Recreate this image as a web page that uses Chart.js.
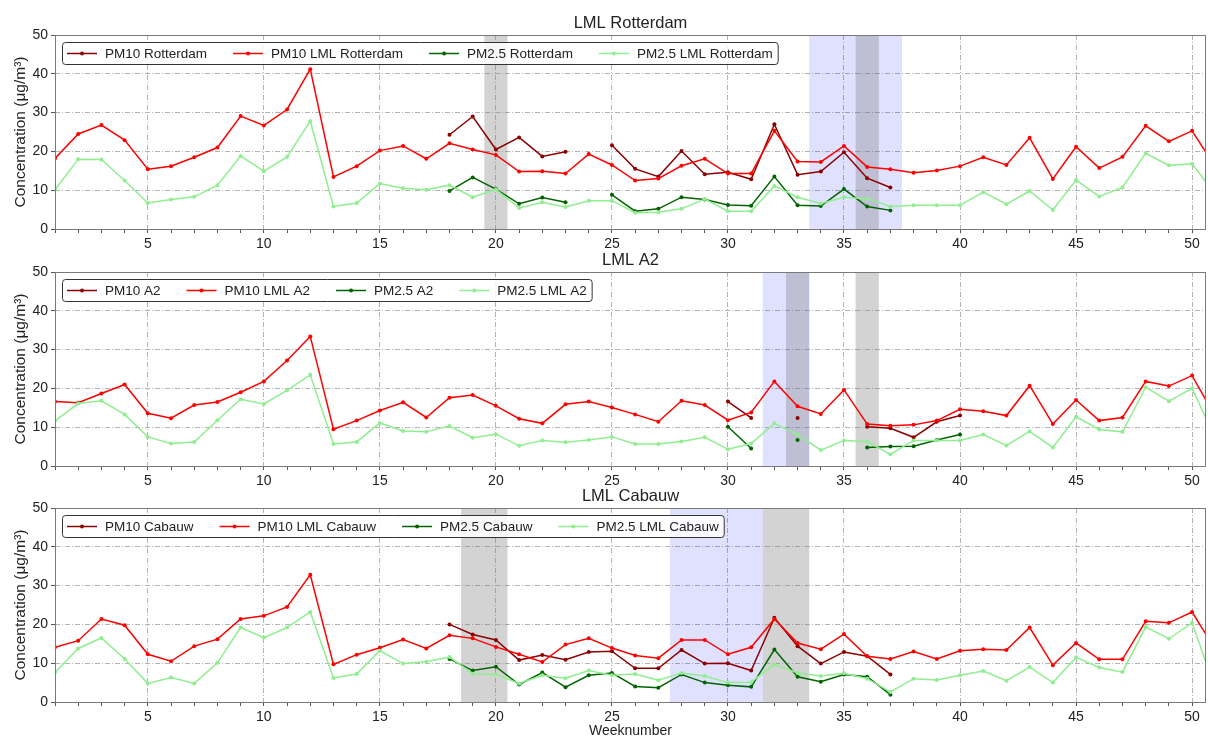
<!DOCTYPE html>
<html>
<head>
<meta charset="utf-8">
<script src="https://cdn.jsdelivr.net/npm/chart.js@4"></script>
<style>
  body { margin: 0; width: 1208px; height: 736px; overflow: hidden; background: #fff; position: relative; }
  canvas { position: absolute; left: 0; }
</style>
</head>
<body>
<canvas id="c1" width="1208" height="250" style="top:0"></canvas>
<canvas id="c2" width="1208" height="250" style="top:237px"></canvas>
<canvas id="c3" width="1208" height="267" style="top:473px"></canvas>
<script>
const N = null;
const weeks = [1,2,3,4,5,6,7,8,9,10,11,12,13,14,15,16,17,18,19,20,21,22,23,24,25,26,27,28,29,30,
  31,32,33,34,35,36,37,38,39,40,41,42,43,44,45,46,47,48,49,50,51];

// LML Rotterdam
const pm10Rdam = [N,N,N,N,N,N,N,N,N,N,N,N,N,N,N,N,N,24.3,29.0,20.5,23.6,18.7,19.9,N,21.6,15.5,13.5,20.1,14.1,14.6,
  12.8,27.0,14.0,14.8,19.8,13.1,10.7,N,N,N,N,N,N,N,N,N,N,N,N,N,N];
const pm10LmlRdam = [18.2,24.5,26.8,22.9,15.4,16.2,18.5,21.0,29.1,26.7,30.8,41.2,13.4,16.2,20.2,21.4,18.1,22.1,20.5,19.1,
  14.8,14.9,14.3,19.3,16.5,12.5,13.0,16.3,18.1,14.3,14.3,25.3,17.4,17.3,21.4,16.0,15.4,14.5,15.1,16.2,
  18.5,16.5,23.5,12.9,21.2,15.7,18.6,26.6,22.6,25.3,16.0];
const pm25Rdam = [N,N,N,N,N,N,N,N,N,N,N,N,N,N,N,N,N,9.8,13.3,10.3,6.5,8.1,6.9,N,8.8,4.6,5.2,8.2,7.6,6.2,
  6.0,13.5,6.1,5.9,10.3,5.8,4.8,N,N,N,N,N,N,N,N,N,N,N,N,N,N];
const pm25LmlRdam = [10.1,18.0,17.9,12.5,6.7,7.6,8.3,11.3,18.8,14.9,18.6,27.8,5.8,6.7,11.7,10.5,10.1,11.3,8.2,10.2,
  5.4,6.9,5.7,7.3,7.3,4.2,4.3,5.2,7.7,4.6,4.6,11.1,8.2,6.6,8.2,7.8,5.8,6.1,6.1,6.1,
  9.5,6.4,9.8,4.9,12.6,8.4,10.7,19.5,16.4,16.8,9.0];

// LML A2
const pm10A2 = [N,N,N,N,N,N,N,N,N,N,N,N,N,N,N,N,N,N,N,N,N,N,N,N,N,N,N,N,N,16.6,
  12.4,N,12.4,N,N,10.1,9.7,7.4,11.4,13.0,N,N,N,N,N,N,N,N,N,N,N];
const pm10LmlA2 = [16.6,16.3,18.7,21.0,13.6,12.3,15.7,16.5,19.0,21.8,27.2,33.4,9.5,11.7,14.3,16.4,12.5,17.6,18.3,15.5,
  12.2,11.0,15.9,16.6,15.1,13.3,11.4,16.8,15.7,11.8,13.8,21.8,15.4,13.4,19.6,10.8,10.4,10.6,11.7,14.6,
  14.1,13.0,20.7,10.8,17.0,11.7,12.5,21.8,20.6,23.3,12.7];
const pm25A2 = [N,N,N,N,N,N,N,N,N,N,N,N,N,N,N,N,N,N,N,N,N,N,N,N,N,N,N,N,N,10.1,
  4.5,N,6.7,N,N,4.8,5.0,5.1,6.7,8.1,N,N,N,N,N,N,N,N,N,N,N];
const pm25LmlA2 = [11.6,16.1,16.8,13.3,7.5,5.8,6.2,11.8,17.2,16.0,19.5,23.5,5.7,6.2,11.1,9.0,8.8,10.3,7.3,8.2,
  5.2,6.6,6.1,6.7,7.5,5.7,5.7,6.3,7.4,4.3,5.8,11.0,8.1,4.1,6.6,6.3,3.0,6.6,6.6,6.6,
  8.1,5.3,8.9,4.8,12.7,9.4,8.8,20.3,16.7,20.0,7.2];

// LML Cabauw
const pm10Cab = [N,N,N,N,N,N,N,N,N,N,N,N,N,N,N,N,N,20.0,17.4,16.0,10.8,12.1,10.9,12.9,13.1,8.7,8.7,13.4,9.9,10.0,
  8.1,21.7,14.4,9.9,12.9,11.8,7.1,N,N,N,N,N,N,N,N,N,N,N,N,N,N];
const pm10LmlCab = [14.1,15.8,21.4,19.8,12.3,10.5,14.4,16.2,21.4,22.2,24.5,32.8,9.7,12.2,14.0,16.1,13.8,17.2,16.4,14.2,
  12.3,10.3,14.8,16.4,13.9,12.0,11.3,16.0,16.0,12.3,14.1,21.4,15.2,13.6,17.5,11.8,11.1,13.0,11.1,13.2,
  13.6,13.4,19.2,9.5,15.2,11.0,11.0,20.8,20.4,23.2,13.6];
const pm25Cab = [N,N,N,N,N,N,N,N,N,N,N,N,N,N,N,N,N,11.1,8.1,9.1,4.5,7.6,3.8,6.9,7.5,4.0,3.7,7.1,5.0,4.3,
  3.9,13.5,6.5,5.2,7.1,6.5,1.9,N,N,N,N,N,N,N,N,N,N,N,N,N,N];
const pm25LmlCab = [7.6,13.8,16.5,11.1,4.8,6.3,4.8,10.1,19.2,16.6,19.2,23.2,6.2,7.2,13.2,9.9,10.4,11.6,7.3,7.1,
  4.8,6.9,6.1,8.1,6.9,7.2,5.6,7.5,6.7,5.0,5.1,9.7,7.5,6.7,7.4,6.0,2.6,6.0,5.7,6.9,
  8.0,5.5,9.0,5.0,11.5,8.9,7.7,19.3,16.3,20.4,3.4];

// shaded week spans [from, to]
const blueRdam = [[33.5, 37.5]], grayRdam = [[19.5, 20.5], [35.5, 36.5]];
const blueA2 = [[31.5, 33.5]], grayA2 = [[32.5, 33.5], [35.5, 36.5]];
const blueCab = [[27.5, 31.5]], grayCab = [[18.5, 20.5], [31.5, 33.5]];

const FONT = '"Liberation Sans", Arial, Helvetica, sans-serif';
const TXT = '#222';
Chart.defaults.font.family = FONT;
Chart.defaults.color = TXT;

const shade = {
  id: 'shade',
  beforeDatasetsDraw(chart, args, opts) {
    const { ctx, chartArea: a, scales: { x } } = chart;
    ctx.save();
    const span = (s, color) => {
      const x1 = x.getPixelForValue(s[0]), x2 = x.getPixelForValue(s[1]);
      ctx.fillStyle = color;
      ctx.fillRect(x1, a.top, x2 - x1, a.height);
    };
    (opts.blue || []).forEach(s => span(s, 'rgba(0,0,255,0.12)'));
    (opts.gray || []).forEach(s => span(s, 'rgba(128,128,128,0.35)'));
    ctx.restore();
  }
};

const frame = {
  id: 'frame',
  afterDatasetsDraw(chart, args, opts) {
    const { ctx, chartArea: a } = chart;
    ctx.save();
    ctx.strokeStyle = '#7a7a7a';
    ctx.lineWidth = 1;
    ctx.strokeRect(Math.round(a.left) + 0.5, Math.round(a.top) + 0.5, Math.round(a.width) - 1, Math.round(a.height));
    ctx.font = '16.5px ' + FONT;
    ctx.fillStyle = TXT;
    ctx.textAlign = 'center';
    ctx.textBaseline = 'middle';
    ctx.fillText(opts.title, (a.left + a.right) / 2, a.top - 12);
    ctx.restore();
  }
};

const boxLegend = {
  id: 'boxLegend',
  afterDraw(chart) {
    const { ctx, chartArea: a } = chart;
    const items = chart.data.datasets;
    ctx.save();
    ctx.font = '13.5px ' + FONT;
    const widths = items.map(d => ctx.measureText(d.label).width);
    const left = Math.round(a.left) + 7, top = Math.round(a.top) + 7, h = 22;
    const w = 5 + widths.reduce((s, tw) => s + 38 + tw, 0) + 26 * (items.length - 1) + 5;
    ctx.beginPath();
    ctx.roundRect(left + 0.5, top + 0.5, w, h, 3);
    ctx.fillStyle = 'rgba(255,255,255,0.85)';
    ctx.fill();
    ctx.strokeStyle = '#333';
    ctx.lineWidth = 1;
    ctx.stroke();
    let x = left + 5;
    const cy = top + h / 2 + 0.5;
    items.forEach((d, i) => {
      ctx.strokeStyle = d.borderColor;
      ctx.lineWidth = 1.5;
      ctx.beginPath(); ctx.moveTo(x, cy); ctx.lineTo(x + 30, cy); ctx.stroke();
      ctx.fillStyle = d.borderColor;
      ctx.beginPath(); ctx.arc(x + 15, cy, 2, 0, Math.PI * 2); ctx.fill();
      ctx.fillStyle = TXT;
      ctx.textBaseline = 'middle';
      ctx.fillText(d.label, x + 38, cy + 0.5);
      x += 38 + widths[i] + 26;
    });
    ctx.restore();
  }
};

const series = (label, vals, color, order) => ({
  label, data: weeks.map((w, i) => ({ x: w, y: vals[i] })),
  borderColor: color, backgroundColor: color, borderWidth: 1.5,
  pointRadius: 2, pointBorderWidth: 0, pointHoverRadius: 2, tension: 0, order,
});

function panel(id, title, site, vals, blue, gray, last) {
  return new Chart(document.getElementById(id), {
    type: 'line',
    data: { datasets: [
      series('PM10 ' + site, vals[0], '#8b0000', 3),
      series('PM10 LML ' + site, vals[1], '#ff0000', 2),
      series('PM2.5 ' + site, vals[2], '#006400', 1),
      series('PM2.5 LML ' + site, vals[3], '#90ee90', 0),
    ]},
    options: {
      responsive: false, animation: false, devicePixelRatio: 1,
      layout: { padding: { top: 35, right: 1, left: 0, bottom: 0 } },
      plugins: { legend: { display: false }, tooltip: { enabled: false },
        shade: { blue, gray }, frame: { title } },
      scales: {
        x: { type: 'linear', min: 1, max: 50.6,
          afterFit: s => { s.height = last ? 38 : 21; },
          title: { display: last, text: 'Weeknumber', font: { size: 14 }, color: TXT, padding: { top: 0, bottom: 0 } },
          ticks: { stepSize: 1, autoSkip: false, maxRotation: 0, includeBounds: false, maxTicksLimit: 100,
            padding: 3, font: { size: 14 }, color: TXT, callback: v => v % 5 === 0 ? v : '' },
          grid: { color: c => c.tick && c.tick.value % 5 === 0 ? '#b4b4b4' : 'rgba(0,0,0,0)',
            lineWidth: 1, tickLength: 4, tickColor: '#555', tickWidth: 1, tickBorderDash: [] },
          border: { display: false, dash: [5, 2, 1, 2] } },
        y: { min: 0, max: 50,
          afterFit: s => { s.width = 55; },
          title: { display: true, text: 'Concentration (μg/m³)', font: { size: 15.5 }, color: TXT, padding: { top: 11, bottom: 0 } },
          ticks: { stepSize: 10, padding: 3, font: { size: 14 }, color: TXT },
          grid: { color: '#b4b4b4', lineWidth: 1, tickLength: 4, tickColor: '#555', tickWidth: 1, tickBorderDash: [] },
          border: { display: false, dash: [5, 2, 1, 2] } },
      },
    },
    plugins: [shade, frame, boxLegend],
  });
}

panel('c1', 'LML Rotterdam', 'Rotterdam', [pm10Rdam, pm10LmlRdam, pm25Rdam, pm25LmlRdam], blueRdam, grayRdam, false);
panel('c2', 'LML A2', 'A2', [pm10A2, pm10LmlA2, pm25A2, pm25LmlA2], blueA2, grayA2, false);
panel('c3', 'LML Cabauw', 'Cabauw', [pm10Cab, pm10LmlCab, pm25Cab, pm25LmlCab], blueCab, grayCab, true);
</script>
</body>
</html>
